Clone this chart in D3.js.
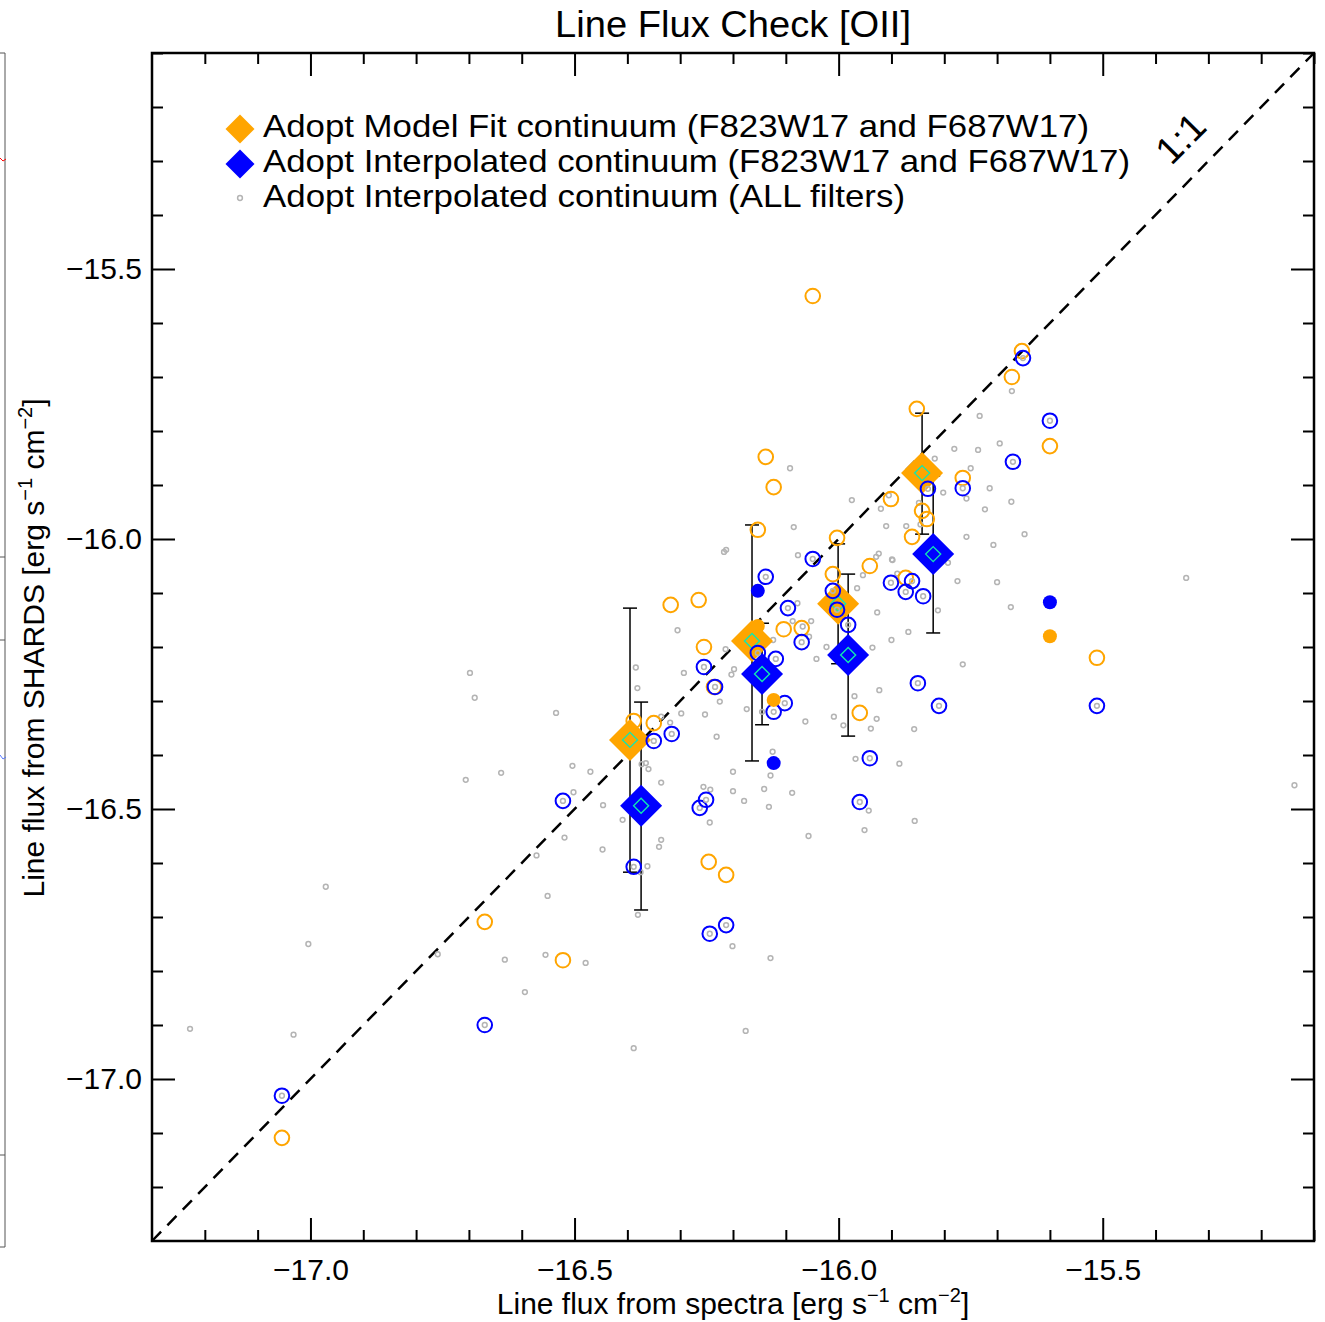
<!DOCTYPE html>
<html>
<head>
<meta charset="utf-8">
<script src="https://cdn.jsdelivr.net/npm/d3@7"></script>
<style>
  body { margin: 0; background: #fff; }
  text { font-family: "Liberation Sans", Arial, Helvetica, sans-serif; fill: #000; }
</style>
</head>
<body>
<div id="chart-area"></div>
<script>
// Line Flux Check [OII] -- SHARDS vs spectra, log flux

// individual objects, model-fit continuum (orange open circles)
const modelFitPts = [
  [-16.049,-15.550],[-15.653,-15.652],[-15.672,-15.700],[-15.852,-15.759],[-15.600,-15.828],
  [-16.138,-15.848],[-16.123,-15.904],[-15.765,-15.887],[-15.901,-15.926],[-15.842,-15.948],
  [-15.833,-15.963],[-15.861,-15.996],[-16.153,-15.983],[-16.003,-15.998],[-15.941,-16.050],
  [-16.011,-16.065],[-15.873,-16.072],[-16.318,-16.122],[-16.265,-16.113],[-16.255,-16.200],
  [-16.104,-16.167],[-16.070,-16.165],[-16.236,-16.274],[-16.388,-16.337],[-16.350,-16.341],
  [-15.960,-16.322],[-16.246,-16.598],[-16.213,-16.622],[-16.670,-16.709],[-16.522,-16.780],
  [-17.054,-17.109],[-15.511,-16.220]
];
const modelFitSolid = [[-16.153,-16.161],[-16.123,-16.298],[-15.600,-16.180]];

// interpolated continuum, F823W17 and F687W17 (blue open circles)
const interpPts = [
  [-15.651,-15.665],[-15.600,-15.781],[-15.670,-15.857],[-15.765,-15.906],[-15.831,-15.907],
  [-16.049,-16.037],[-16.138,-16.070],[-16.011,-16.096],[-16.003,-16.131],[-15.982,-16.159],
  [-15.901,-16.081],[-15.873,-16.098],[-15.861,-16.078],[-15.840,-16.106],[-16.096,-16.128],
  [-16.070,-16.191],[-16.255,-16.237],[-16.234,-16.274],[-16.153,-16.211],[-16.119,-16.222],
  [-16.102,-16.304],[-16.123,-16.320],[-16.350,-16.374],[-16.316,-16.361],[-16.522,-16.485],
  [-16.263,-16.498],[-16.251,-16.483],[-15.850,-16.267],[-15.810,-16.309],[-15.511,-16.309],
  [-15.941,-16.406],[-15.960,-16.487],[-16.388,-16.607],[-16.244,-16.731],[-16.213,-16.715],
  [-16.670,-16.900],[-17.054,-17.031]
];
const interpSolid = [[-16.153,-16.096],[-16.123,-16.415],[-15.600,-16.117]];

// interpolated continuum, all filters (small grey circles)
const allFilterPts = [
  [-16.092,-15.869],[-15.975,-15.928],[-16.085,-15.978],[-16.213,-16.020],[-16.217,-16.024],[-16.077,-16.030],
  [-15.898,-16.039],[-15.954,-16.067],[-15.965,-16.091],[-15.927,-16.136],[-15.900,-16.187],[-15.936,-16.201],
  [-16.042,-16.222],[-16.023,-16.200],[-16.056,-16.181],[-16.068,-16.162],[-16.052,-16.152],[-16.087,-16.152],
  [-16.078,-16.119],[-16.124,-16.187],[-16.214,-16.204],[-16.198,-16.241],[-16.203,-16.251],[-16.305,-16.169],
  [-16.384,-16.238],[-16.381,-16.276],[-16.293,-16.248],[-16.225,-16.301],[-16.253,-16.325],[-16.298,-16.323],
  [-16.319,-16.340],[-16.336,-16.329],[-16.231,-16.366],[-16.174,-16.315],[-16.145,-16.320],[-16.063,-16.338],
  [-16.009,-16.329],[-15.991,-16.345],[-15.939,-16.351],[-15.928,-16.333],[-15.923,-16.280],[-15.970,-16.291],
  [-16.125,-16.394],[-16.129,-16.438],[-16.141,-16.463],[-16.200,-16.431],[-16.200,-16.467],[-16.088,-16.470],
  [-16.179,-16.485],[-16.132,-16.496],[-16.057,-16.550],[-15.968,-16.407],[-15.943,-16.503],[-15.951,-16.539],
  [-16.504,-16.420],[-16.470,-16.431],[-16.502,-16.469],[-16.446,-16.493],[-16.409,-16.520],[-16.373,-16.417],
  [-16.365,-16.415],[-16.360,-16.426],[-16.336,-16.451],[-16.244,-16.525],[-16.256,-16.459],[-16.243,-16.464],
  [-16.519,-16.553],[-16.336,-16.557],[-16.340,-16.570],[-16.447,-16.575],
  [-15.672,-15.726],[-15.733,-15.772],[-15.695,-15.823],[-15.736,-15.835],[-15.781,-15.833],[-15.818,-15.851],
  [-15.750,-15.869],[-15.714,-15.906],[-15.758,-15.925],[-15.802,-15.914],[-15.723,-15.945],[-15.673,-15.931],
  [-15.920,-15.944],[-15.905,-15.919],[-15.910,-15.976],[-15.872,-15.976],[-15.848,-15.933],[-15.845,-15.973],
  [-15.648,-15.991],[-15.707,-16.011],[-15.758,-15.996],[-15.793,-16.044],[-15.899,-16.038],[-15.924,-16.027],
  [-15.929,-16.033],[-15.889,-16.064],[-15.775,-16.078],[-15.700,-16.080],[-15.674,-16.126],[-15.812,-16.132],
  [-15.868,-16.172],
  [-16.572,-16.586],[-16.551,-16.661],[-16.759,-16.769],[-16.632,-16.779],[-16.555,-16.770],[-16.479,-16.785],
  [-16.594,-16.839],[-16.380,-16.696],[-16.362,-16.606],[-16.375,-16.617],[-16.201,-16.754],[-16.129,-16.776],
  [-16.176,-16.911],[-16.388,-16.943],
  [-15.765,-16.232],[-15.857,-16.352],[-15.885,-16.416],[-15.856,-16.522],[-15.137,-16.456],
  [-16.971,-16.644],[-17.004,-16.750],[-17.228,-16.907],[-17.032,-16.918],
  [-16.698,-16.248],[-16.689,-16.294],[-16.535,-16.322],[-16.706,-16.446],[-16.639,-16.433],[-15.342,-16.072]
];

// binned medians with error bars
const fitBinX  = [-16.395, -16.164, -16.001, -15.842];
const fitBinY  = [-16.372, -16.189, -16.120, -15.878];
const fitBinHi = [-16.128, -15.974, -16.009, -15.767];
const fitBinLo = [-16.617, -16.411, -16.231, -15.991];

const intBinX  = [-16.374, -16.145, -15.982, -15.821];
const intBinY  = [-16.494, -16.250, -16.215, -16.028];
const intBinHi = [-16.302, -16.156, -16.065, -15.883];
const intBinLo = [-16.687, -16.344, -16.365, -16.174];

const majorTicks = [-17.0, -16.5, -16.0, -15.5];
const legendLabels = [
  "Adopt Model Fit continuum (F823W17 and F687W17)",
  "Adopt Interpolated continuum (F823W17 and F687W17)",
  "Adopt Interpolated continuum (ALL filters)"
];

const WIDTH = 1325;
const HEIGHT = 1322;
const ORANGE = "#ffa500";
const BLUE = "#0000ff";
const GREY = "#b4b4b4";
const CYAN = "#10e8b0";

const svg = d3.select("#chart-area").append("svg")
  .attr("width", WIDTH)
  .attr("height", HEIGHT)
  .style("background", "#fff");

const plot = {left: 152, right: 1314, top: 53, bottom: 1241};

const x = d3.scaleLinear().domain([-17.3, -15.1]).range([plot.left, plot.right]);
const y = d3.scaleLinear().domain([-17.3, -15.1]).range([plot.bottom, plot.top]);

const minorTicks = d3.range(-172, -150, 1).map(d => d / 10)
  .filter(d => !majorTicks.some(m => Math.abs(m - d) < 1e-6));

// left edge remnant of neighbouring panel
const edge = svg.append("g").attr("stroke", "#555").attr("stroke-width", 1);
edge.append("line").attr("x1", 5).attr("x2", 5).attr("y1", 53).attr("y2", 1247);
[53, 1247].forEach(v => edge.append("line").attr("x1", 0).attr("x2", 5).attr("y1", v).attr("y2", v));
[557, 640, 1155].forEach(v => edge.append("line").attr("x1", 0).attr("x2", 5).attr("y1", v).attr("y2", v));
svg.append("path").attr("d", "M0,158 L3,161 L6,159").attr("stroke", "red").attr("fill", "none").attr("stroke-width", 1);
svg.append("path").attr("d", "M0,755 L3,759 L6,757").attr("stroke", "#5577ff").attr("fill", "none").attr("stroke-width", 1);

// axes (ticks inward, all four sides)
const fmt = d3.format(".1f");
const axes = [
  {axis: d3.axisBottom, pos: `translate(0,${plot.bottom})`, scale: x, labels: true},
  {axis: d3.axisTop, pos: `translate(0,${plot.top})`, scale: x, labels: false},
  {axis: d3.axisLeft, pos: `translate(${plot.left},0)`, scale: y, labels: true},
  {axis: d3.axisRight, pos: `translate(${plot.right},0)`, scale: y, labels: false}
];
axes.forEach(a => {
  const major = svg.append("g").attr("transform", a.pos)
    .call(a.axis(a.scale).tickValues(majorTicks).tickSize(-23)
      .tickPadding(a.axis === d3.axisLeft ? 10 : 18)
      .tickFormat(a.labels ? fmt : ""));
  const minor = svg.append("g").attr("transform", a.pos)
    .call(a.axis(a.scale).tickValues(minorTicks).tickSize(-11).tickFormat(""));
  [major, minor].forEach(g => {
    g.select(".domain").remove();
    g.selectAll(".tick line").attr("stroke", "#000").attr("stroke-width", 2);
    g.selectAll("text").attr("font-size", 30).attr("fill", "#000")
      .style("font-family", "'Liberation Sans', Arial, sans-serif");
  });
});

svg.append("rect")
  .attr("x", plot.left).attr("y", plot.top)
  .attr("width", plot.right - plot.left).attr("height", plot.bottom - plot.top)
  .attr("fill", "none").attr("stroke", "#000").attr("stroke-width", 2.5);

// 1:1 line
svg.append("line")
  .attr("x1", x(-17.3)).attr("y1", y(-17.3))
  .attr("x2", x(-15.1)).attr("y2", y(-15.1))
  .attr("stroke", "#000").attr("stroke-width", 2.5)
  .attr("stroke-dasharray", "13,9");

svg.append("text")
  .attr("transform", `translate(${x(-15.335)},${y(-15.275)}) rotate(-45)`)
  .attr("text-anchor", "middle")
  .attr("font-size", 38)
  .text("1:1");

// error bars
const errGroup = svg.append("g").attr("stroke", "#000").attr("stroke-width", 1.5);
const drawErr = (xs, hi, lo) => {
  xs.forEach((xv, i) => {
    errGroup.append("line").attr("x1", x(xv)).attr("x2", x(xv)).attr("y1", y(hi[i])).attr("y2", y(lo[i]));
    [hi[i], lo[i]].forEach(v => errGroup.append("line")
      .attr("x1", x(xv) - 7).attr("x2", x(xv) + 7).attr("y1", y(v)).attr("y2", y(v)));
  });
};
drawErr(fitBinX, fitBinHi, fitBinLo);
drawErr(intBinX, intBinHi, intBinLo);

const diamond = r => `M0,${-r}L${r},0L0,${r}L${-r},0Z`;

// grey all-filter points
svg.append("g").selectAll("circle").data(allFilterPts).enter().append("circle")
  .attr("cx", d => x(d[0])).attr("cy", d => y(d[1])).attr("r", 2.4)
  .attr("fill", "none").attr("stroke", GREY).attr("stroke-width", 1.5);

// binned diamonds
const drawBins = (xs, ys, color) => {
  const g = svg.append("g");
  xs.forEach((xv, i) => {
    g.append("path").attr("d", diamond(21))
      .attr("transform", `translate(${x(xv)},${y(ys[i])})`).attr("fill", color);
    g.append("path").attr("d", diamond(7.5))
      .attr("transform", `translate(${x(xv)},${y(ys[i])})`)
      .attr("fill", "none").attr("stroke", CYAN).attr("stroke-width", 1.4);
  });
};
drawBins(fitBinX, fitBinY, ORANGE);
drawBins(intBinX, intBinY, BLUE);

// individual points
svg.append("g").selectAll("circle").data(modelFitPts).enter().append("circle")
  .attr("cx", d => x(d[0])).attr("cy", d => y(d[1])).attr("r", 7.3)
  .attr("fill", "none").attr("stroke", ORANGE).attr("stroke-width", 2);

const interpG = svg.append("g").selectAll("g").data(interpPts).enter().append("g")
  .attr("transform", d => `translate(${x(d[0])},${y(d[1])})`);
interpG.append("circle").attr("r", 2.4).attr("fill", "none").attr("stroke", GREY).attr("stroke-width", 1.5);
interpG.append("circle").attr("r", 7.3).attr("fill", "none").attr("stroke", BLUE).attr("stroke-width", 2);

svg.append("g").selectAll("circle").data(modelFitSolid).enter().append("circle")
  .attr("cx", d => x(d[0])).attr("cy", d => y(d[1])).attr("r", 7).attr("fill", ORANGE);
svg.append("g").selectAll("circle").data(interpSolid).enter().append("circle")
  .attr("cx", d => x(d[0])).attr("cy", d => y(d[1])).attr("r", 7).attr("fill", BLUE);

// legend
const legend = svg.append("g");
const legendWidths = [826, 867, 642];
legendLabels.forEach((lab, i) => {
  const cy = 129 + i * 35;
  if (i < 2) {
    legend.append("path").attr("d", diamond(14.5))
      .attr("transform", `translate(240,${cy})`).attr("fill", i === 0 ? ORANGE : BLUE);
  } else {
    legend.append("circle").attr("cx", 240).attr("cy", cy - 1).attr("r", 2.4)
      .attr("fill", "none").attr("stroke", GREY).attr("stroke-width", 1.5);
  }
  legend.append("text")
    .attr("x", 263).attr("y", 137 + i * 35)
    .attr("font-size", 32)
    .attr("textLength", legendWidths[i])
    .attr("lengthAdjust", "spacingAndGlyphs")
    .text(lab);
});

// title
svg.append("text")
  .attr("x", 733).attr("y", 37)
  .attr("text-anchor", "middle")
  .attr("font-size", 36)
  .attr("textLength", 356)
  .attr("lengthAdjust", "spacingAndGlyphs")
  .text("Line Flux Check [OII]");

// axis titles with superscripts
const supText = (g, parts) => {
  const t = g.append("text").attr("text-anchor", "middle").attr("font-size", 30);
  parts.forEach(p => {
    const s = t.append("tspan").text(p[0]);
    if (p[1] === 1) s.attr("font-size", 20).attr("dy", -12);
    if (p[1] === -1) s.attr("dy", 12);
  });
  return t;
};

const xt = svg.append("g").attr("transform", "translate(733,1314)");
supText(xt, [["Line flux from spectra [erg s", 0], ["\u22121", 1], [" cm", -1], ["\u22122", 1], ["]", -1]]);

const yt = svg.append("g").attr("transform", "translate(44,648) rotate(-90)");
supText(yt, [["Line flux from SHARDS [erg s", 0], ["\u22121", 1], [" cm", -1], ["\u22122", 1], ["]", -1]]);
</script>
</body>
</html>
